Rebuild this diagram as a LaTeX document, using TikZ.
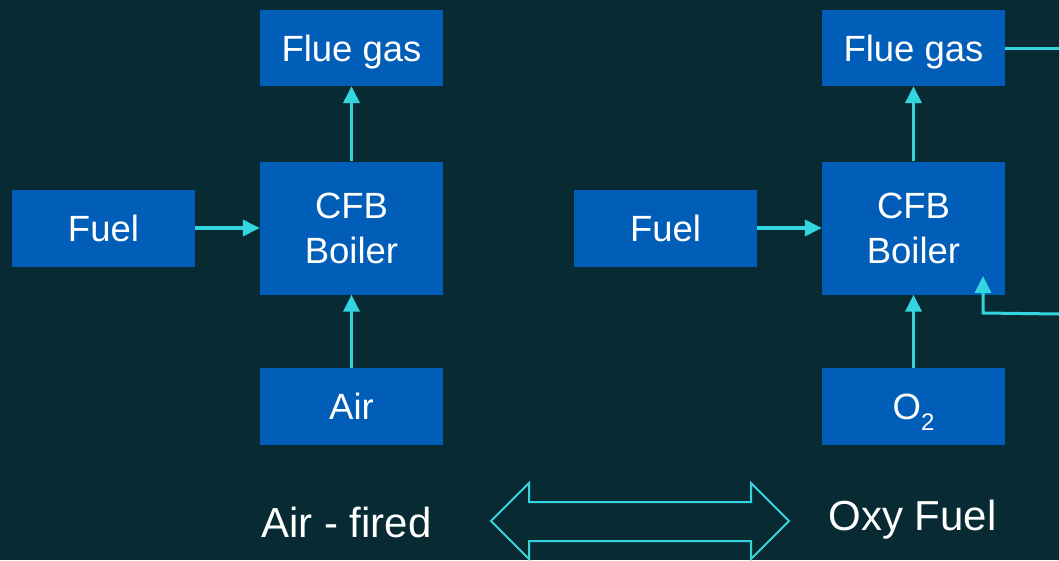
\documentclass[tikz,border=0pt]{standalone}
\usepackage{fontspec}
\setmainfont{Liberation Sans}
\usetikzlibrary{arrows.meta}
\definecolor{bgc}{HTML}{082A32}
\definecolor{boxc}{HTML}{005EB8}
\definecolor{arrc}{HTML}{33D6E0}
\tikzset{
  blk/.style={fill=boxc, text=white, minimum width=183pt, inner sep=0pt, align=center,
    text depth=0pt, font=\fontsize{36.5}{45}\selectfont},
  flow/.style={draw=arrc, line width=3.5pt, -{Triangle[length=17pt,width=16pt]}},
  recyc/.style={draw=arrc, line width=3pt},
  lbl/.style={text=white, font=\fontsize{42}{48}\selectfont, inner sep=0pt, anchor=base}
}
\begin{document}
\begin{tikzpicture}[x=1pt,y=-1pt]
\fill[bgc] (0,0) rectangle (1059,560);
\useasboundingbox (0,0) rectangle (1059,560);
% left side
\node[blk, minimum height=77pt] (fuelL) at (103.5,228) {Fuel};
\node[blk, minimum height=76pt] (flueL) at (351.5,48) {Flue gas};
\node[blk, minimum height=133pt] (cfbL) at (351.5,228) {CFB\\Boiler};
\node[blk, minimum height=77pt] (air) at (351.5,406.5) {Air};
% right side
\node[blk, minimum height=77pt] (fuelR) at (665.5,228) {Fuel};
\node[blk, minimum height=76pt] (flueR) at (913.5,48) {Flue gas};
\node[blk, minimum height=133pt] (cfbR) at (913.5,228) {CFB\\Boiler};
\node[blk, minimum height=77pt] (oxy) at (913.5,406.5) {O\raisebox{-0.3em}{\fontsize{24}{24}\selectfont 2}};
% connectors
\draw[flow] (fuelL.east) -- (cfbL.west);
\draw[flow] (cfbL.north) -- (flueL.south);
\draw[flow] (air.north) -- (cfbL.south);
\draw[flow] (fuelR.east) -- (cfbR.west);
\draw[flow] (cfbR.north) -- (flueR.south);
\draw[flow] (oxy.north) -- (cfbR.south);
% recycle
\coordinate (rc1) at (1059,48);
\coordinate (rc2) at (1059,314);
\coordinate (rc3) at (983,313);
\coordinate (rc4) at (983,276);
\draw[recyc] (flueR.east) -- (rc1);
\draw[recyc, -{Triangle[length=17pt,width=16pt]}] (rc2) -- (rc3) -- (rc4);
% labels
\node[lbl] (lblA) at (346.5,537) {Air - fired};
\node[lbl] (lblB) at (912.5,530) {Oxy Fuel};
% double arrow
\draw[arrc, line width=2pt, line join=miter]
  (491,521) -- (529,483) -- (529,502) -- (751,502) -- (751,483) -- (789,521)
  -- (751,559) -- (751,541) -- (529,541) -- (529,559) -- cycle;
\end{tikzpicture}
\end{document}
